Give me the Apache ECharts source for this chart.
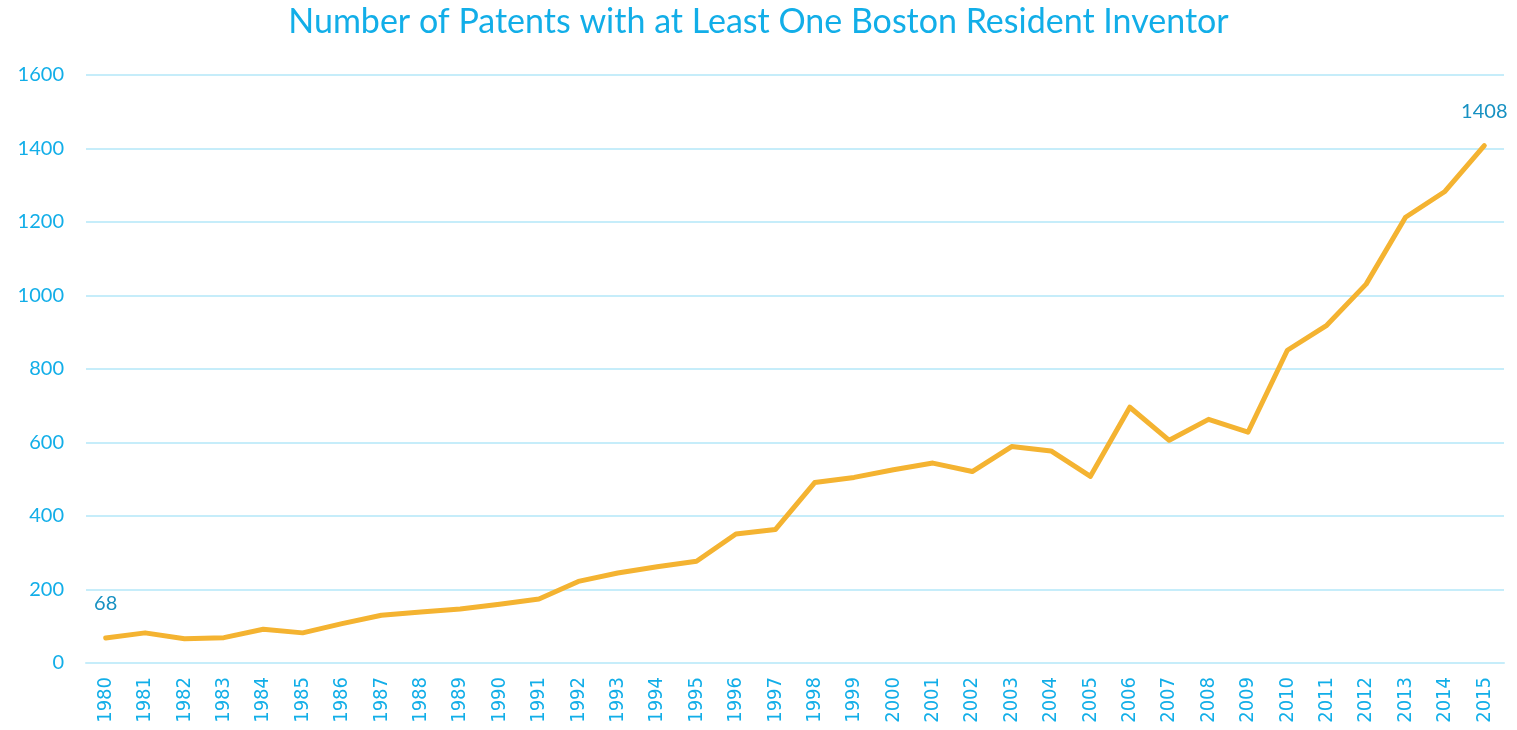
<!DOCTYPE html>
<html>
<head>
<meta charset="utf-8">
<script src="https://cdn.jsdelivr.net/npm/echarts@6/dist/echarts.min.js"></script>
<style>
html,body{margin:0;padding:0;background:#fff;}
#chart{width:1517px;height:730px;}
</style>
</head>
<body>
<div id="chart"></div>
<script>
var years = ['1980','1981','1982','1983','1984','1985','1986','1987','1988','1989','1990','1991','1992','1993','1994','1995','1996','1997','1998','1999','2000','2001','2002','2003','2004','2005','2006','2007','2008','2009','2010','2011','2012','2013','2014','2015'];
var patents = [68,82,66,69,92,82,107,130,139,147,160,174,222,245,262,277,351,363,491,505,526,544,521,589,577,508,696,606,663,628,851,919,1031,1213,1283,1408];
var labelledIndexes = [0, 35];
var titleText = 'Number of Patents with at Least One Boston Resident Inventor';

var chart = echarts.init(document.getElementById('chart'));
chart.setOption({
  animation: false,
  backgroundColor: '#ffffff',
  title: {
    text: titleText,
    left: 'center',
    top: 0,
    textStyle: {color: '#12aee8', fontSize: 34, fontWeight: 'normal', fontFamily: 'Lato'}
  },
  grid: {left: 86, right: 13, top: 75, bottom: 67},
  xAxis: {
    type: 'category',
    data: years,
    boundaryGap: true,
    axisLine: {lineStyle: {color: '#c6edfa', width: 2}},
    axisTick: {show: false},
    axisLabel: {color: '#12aee8', fontSize: 20, rotate: 90, margin: 14, fontFamily: '"DejaVu Sans Condensed", "Liberation Sans", sans-serif', interval: 0}
  },
  yAxis: {
    type: 'value',
    min: 0, max: 1600, interval: 200,
    axisLine: {show: false},
    axisTick: {show: false},
    axisLabel: {color: '#12aee8', fontSize: 20, margin: 22, fontFamily: 'Lato', formatter: function(v){ return String(v); }},
    splitLine: {lineStyle: {color: '#c6edfa', width: 2}}
  },
  series: [{
    type: 'line',
    data: patents.map(function(v, i){
      return labelledIndexes.indexOf(i) >= 0 ? {value: v, label: {show: true}} : v;
    }),
    symbol: 'circle',
    symbolSize: 0,
    showSymbol: true,
    lineStyle: {color: '#f4b331', width: 5, cap: 'round', join: 'round'},
    itemStyle: {color: '#f4b331'},
    label: {show: false, position: 'top', distance: 24, color: '#1791c2', fontSize: 20, fontFamily: 'Lato'}
  }]
});
</script>
</body>
</html>
